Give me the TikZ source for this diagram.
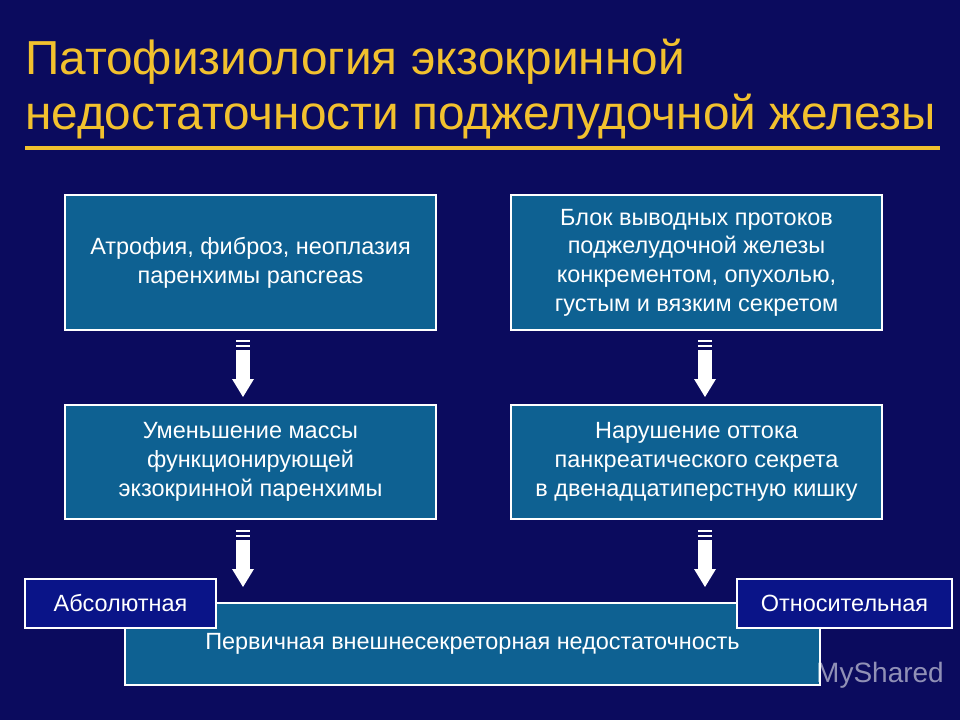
\documentclass[tikz,border=0pt]{standalone}
\usepackage{fontspec}
\setmainfont{Liberation Sans}
\begin{document}
\begin{tikzpicture}[x=0.75pt,y=-0.75pt,
  box/.style={draw=white,line width=0.8pt,fill=boxc,text=white,align=center,font=\fontsize{17.6}{21.5}\selectfont,inner sep=0pt},
  tag/.style={draw=white,line width=0.8pt,fill=tagc,text=white,font=\fontsize{17.6}{21}\selectfont,inner sep=0pt}]
\definecolor{bgc}{HTML}{0B0B5E}
\definecolor{boxc}{HTML}{0E6192}
\definecolor{tagc}{HTML}{0A1488}
\definecolor{ttl}{HTML}{F2C12E}
\fill[bgc] (0,0) rectangle (960,720);
\useasboundingbox (0,0) rectangle (960,720);
\node[anchor=west,text=ttl,font=\fontsize{35.8}{40}\selectfont,inner sep=0pt] (t1) at (25,62) {Патофизиология экзокринной};
\node[anchor=west,text=ttl,font=\fontsize{35.8}{40}\selectfont,inner sep=0pt] (t2) at (25,117) {недостаточности поджелудочной железы};
\draw[ttl,line width=3pt] (25,148) -- (940,148);
\node[box,minimum width=371*0.75pt,minimum height=135*0.75pt] (a) at (250.5,262.5) {Атрофия, фиброз, неоплазия\\паренхимы pancreas};
\node[box,minimum width=371*0.75pt,minimum height=135*0.75pt] (b) at (696.5,262.5) {Блок выводных протоков\\поджелудочной железы\\конкрементом, опухолью,\\ густым и вязким секретом};
\node[box,minimum width=371*0.75pt,minimum height=114*0.75pt] (c) at (250.5,462) {Уменьшение массы\\функционирующей\\экзокринной паренхимы};
\node[box,minimum width=371*0.75pt,minimum height=114*0.75pt] (d) at (696.5,462) {Нарушение оттока\\панкреатического секрета\\ в двенадцатиперстную кишку};
\node[box,minimum width=695*0.75pt,minimum height=82*0.75pt] (e) at (472.5,644) {\raisebox{2pt}{Первичная внешнесекреторная недостаточность}};
\node[tag,minimum width=191*0.75pt,minimum height=49*0.75pt] (f) at (120.5,603.5) {Абсолютная};
\node[tag,minimum width=215*0.75pt,minimum height=49*0.75pt] (g) at (844.5,603.5) {Относительная};
\node[text=white,opacity=0.55,font=\fontsize{21}{24}\selectfont] (w) at (880,675) {MyShared};
\foreach \x/\y in {243/340,705/340,243/530,705/530}{
  \fill[white] (\x-7,\y) rectangle (\x+7,\y+2);
  \fill[white] (\x-7,\y+5) rectangle (\x+7,\y+7);
  \fill[white] (\x-7,\y+10) rectangle (\x+7,\y+40);
  \fill[white] (\x-11,\y+39) -- (\x+11,\y+39) -- (\x,\y+57) -- cycle;
}
\end{tikzpicture}
\end{document}
